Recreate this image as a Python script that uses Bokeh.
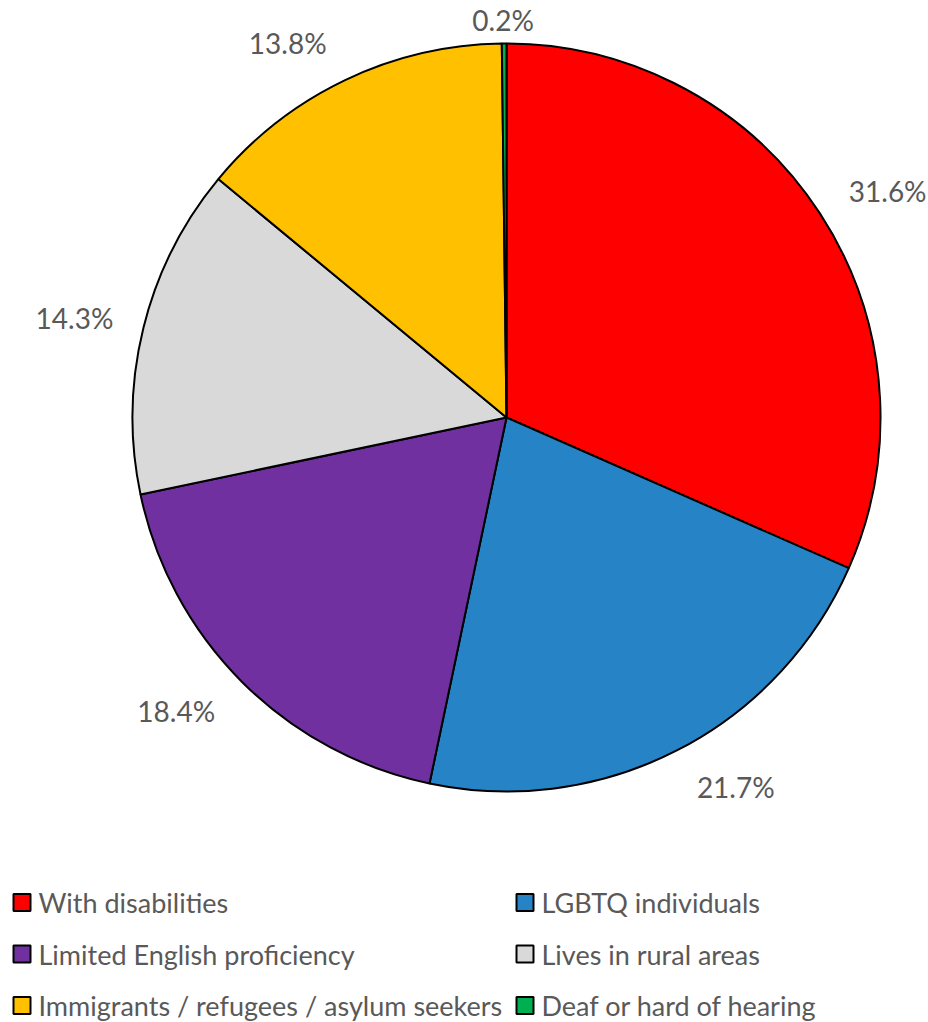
import math
from bokeh.plotting import figure
from bokeh.models import Range1d, ColumnDataSource
from bokeh.core.properties import value
from bokeh.embed import file_html
from bokeh.resources import INLINE

# ---- data ----
categories = ["With disabilities", "LGBTQ individuals", "Limited English proficiency",
              "Lives in rural areas", "Immigrants / refugees / asylum seekers",
              "Deaf or hard of hearing"]
shares = [31.6, 21.7, 18.4, 14.3, 13.8, 0.2]
colors = ["#FF0000", "#2683C6", "#7030A0", "#D9D9D9", "#FFC000", "#00B050"]

W, H = 928, 1022
FONT = "Lato"
TXT = "#595959"

p = figure(width=W, height=H, output_backend="svg", toolbar_location=None,
           x_range=Range1d(0, W), y_range=Range1d(0, H),
           x_axis_type=None, y_axis_type=None, min_border=0,
           outline_line_color=None)
p.grid.visible = False
p.background_fill_color = "white"
p.border_fill_color = "white"

cx, cy, r = 506, H - 417, 374

total = sum(shares)
starts, ends, mids = [], [], []
cum = 0.0
for s in shares:
    a0 = math.pi / 2 - 2 * math.pi * cum / total
    cum += s
    a1 = math.pi / 2 - 2 * math.pi * cum / total
    starts.append(a0); ends.append(a1); mids.append((a0 + a1) / 2)

src = ColumnDataSource(dict(start=starts, end=ends, color=colors))
p.wedge(x=cx, y=cy, radius=r, start_angle="start", end_angle="end",
        direction="clock", fill_color="color", line_color="black",
        line_width=2, source=src)

# data labels (outside end, best-fit style, kept inside the chart area)
labels = [f"{s:.1f}%" for s in shares]
lx, ly = [], []
d = 30
k = 34
top_limit = H - 8
for m, t in zip(mids, labels):
    ux, uy = math.cos(m), math.sin(m)
    w, h = 15.6 * len(t), 22
    x = cx + (r + d) * ux + w / 2 * ux
    x += k * uy * uy * ux / max(abs(ux), 0.3)
    y = cy + (r + d) * uy + h / 2 * uy
    y = min(y, top_limit - h / 2)
    lx.append(x); ly.append(y)
p.text(x=lx, y=ly, text=labels, text_align="center", text_baseline="middle",
       text_font=value(FONT), text_font_size="28px", text_color=TXT)

# legend (manual, 2 columns)
col_x = [13, 516]
row_y = [902, 953.5, 1005]
sq = 17
sx, sy, tx, ty = [], [], [], []
for i, c in enumerate(categories):
    col, row = i % 2, i // 2
    sx.append(col_x[col] + sq / 2)
    sy.append(H - row_y[row])
    tx.append(col_x[col] + sq + 8)
    ty.append(H - row_y[row])
p.rect(x=sx, y=sy, width=sq, height=sq, fill_color=colors,
       line_color="black", line_width=2)
p.text(x=tx, y=ty, text=categories, text_align="left", text_baseline="middle",
       text_font=value(FONT), text_font_size="27px", text_color=TXT)

open("out.html", "w").write(file_html(p, INLINE))
